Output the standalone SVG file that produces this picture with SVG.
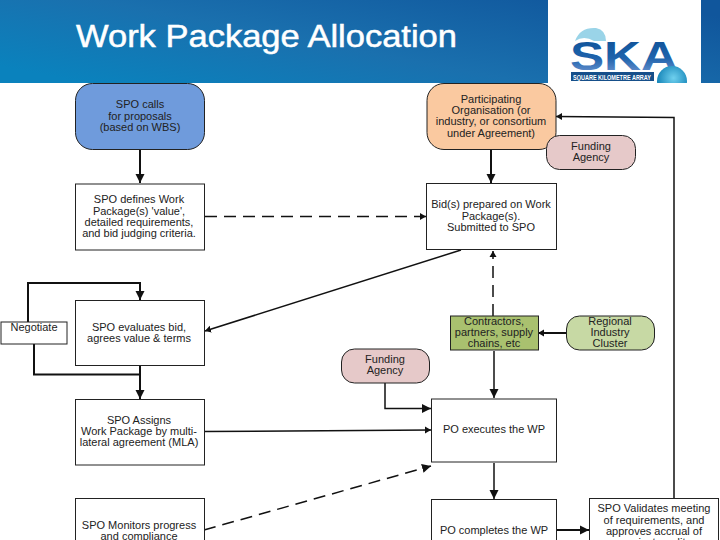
<svg xmlns="http://www.w3.org/2000/svg" width="720" height="540" viewBox="0 0 720 540">
<defs>
<linearGradient id="hdr" x1="0" y1="0.8" x2="1" y2="0.2"><stop offset="0" stop-color="#0a82bd"/><stop offset="0.45" stop-color="#1a70ae"/><stop offset="1" stop-color="#10569c"/></linearGradient>
<linearGradient id="ska" x1="0" y1="0" x2="0" y2="1"><stop offset="0" stop-color="#0c4f94"/><stop offset="0.55" stop-color="#1f63ac"/><stop offset="1" stop-color="#7f9fd8"/></linearGradient>
<radialGradient id="globe" cx="0.55" cy="0.4" r="0.6"><stop offset="0" stop-color="#6fd0ee"/><stop offset="1" stop-color="#0f7fb4"/></radialGradient>
<clipPath id="logoclip"><rect x="548" y="0" width="153" height="83"/></clipPath>
<marker id="a" markerUnits="userSpaceOnUse" markerWidth="10" markerHeight="10" refX="9" refY="5" orient="auto"><path d="M0 0.5L9 5L0 9.5z" fill="#111"/></marker>
<marker id="b" markerUnits="userSpaceOnUse" markerWidth="7" markerHeight="8" refX="6" refY="4" orient="auto"><path d="M0 0.5L6 4L0 7.5z" fill="#111"/></marker>
</defs>
<style>
text{font-family:"Liberation Sans",Arial,sans-serif;font-size:11px;fill:#222;text-anchor:middle}
.n{fill:#fff;stroke:#222;stroke-width:1}
.c{fill:none;stroke:#111;stroke-width:1.5}
.t{stroke-width:2}
.d{stroke-dasharray:12 7}
</style>
<rect width="720" height="540" fill="#fff"/>
<g id="header">
<rect width="720" height="83" fill="url(#hdr)"/>
<rect x="548" width="153" height="83" fill="#fff"/>
<text x="76" y="46.500" textLength="381" lengthAdjust="spacingAndGlyphs" style="font-size:32px;fill:#fff;stroke:#fff;stroke-width:0.5;text-anchor:start">Work Package Allocation</text>
</g>
<g id="logo" clip-path="url(#logoclip)">
<path d="M575 41Q580 27 596 28Q606 30 606 41L594 41Q584 35 575 41z" fill="#9ad4e8"/>
<text x="624" y="70" textLength="108" lengthAdjust="spacingAndGlyphs" style="font-size:40px;font-weight:bold;fill:url(#ska)">SKA</text>
<rect x="571" y="72" width="83" height="9" fill="#164f8a"/>
<text x="612" y="79.500" textLength="78" lengthAdjust="spacingAndGlyphs" style="font-size:7px;font-weight:bold;fill:#fff">SQUARE KILOMETRE ARRAY</text>
<circle cx="672" cy="81" r="15" fill="url(#globe)"/>
</g>
<g id="connectors">
<path class="c t" marker-end="url(#a)" d="M140 149V183"/>
<path class="c t" marker-end="url(#a)" d="M491 149V183"/>
<path class="c d" marker-end="url(#b)" marker-start="url(#b)" d="M205 216.500H426"/>
<path class="c" marker-end="url(#b)" d="M461 250L205 331"/>
<path class="c d" marker-end="url(#b)" d="M493 316V251"/>
<path class="c t" marker-end="url(#a)" d="M28 322V283H140V300"/>
<path class="c t" d="M34 344V374.500H140"/>
<path class="c t" marker-end="url(#a)" d="M140 365V399"/>
<path class="c t" marker-end="url(#b)" d="M566 333H538"/>
<path class="c" marker-end="url(#a)" d="M494 351V398"/>
<path class="c" marker-end="url(#a)" d="M385 383V408.500H431"/>
<path class="c" marker-end="url(#b)" d="M204 431.500L431 430"/>
<path class="c d" marker-end="url(#a)" d="M204 530L431 466"/>
<path class="c" marker-end="url(#a)" d="M494 463V499"/>
<path class="c t" marker-end="url(#a)" d="M556 530H589"/>
<path class="c" marker-end="url(#b)" d="M674 498V117.500L556 116.500"/>
</g>
<g id="spo-calls"><rect x="75.500" y="83.500" width="129" height="66" rx="17" fill="#6f9bdc" stroke="#222"/><text x="140" y="108">SPO calls</text><text x="140" y="119.500">for proposals</text><text x="140" y="130.500">(based on WBS)</text></g>
<g id="spo-defines"><rect class="n" x="75.500" y="184" width="129" height="66"/><text x="139" y="203">SPO defines Work</text><text x="139" y="214.500">Package(s) 'value',</text><text x="139" y="225.500">detailed requirements,</text><text x="139" y="237">and bid judging criteria.</text></g>
<g id="participating"><rect x="427" y="83.500" width="129" height="66" rx="17" fill="#fac9a0" stroke="#222"/><text x="491" y="102.500">Participating</text><text x="491" y="114">Organisation (or</text><text x="491" y="125">industry, or consortium</text><text x="491" y="136.500">under Agreement)</text></g>
<g id="funding-top"><rect x="546.500" y="135.500" width="89" height="34" rx="13" fill="#e6c9c9" stroke="#222"/><text x="591" y="150">Funding</text><text x="591" y="161">Agency</text></g>
<g id="bids"><rect class="n" x="426.500" y="183.500" width="130" height="66"/><text x="491" y="208">Bid(s) prepared on Work</text><text x="491" y="219.500">Package(s).</text><text x="491" y="230.500">Submitted to SPO</text></g>
<g id="negotiate"><rect class="n" x="1" y="322" width="66" height="22"/><text x="34" y="330.500">Negotiate</text></g>
<g id="spo-evaluates"><rect class="n" x="75.500" y="300.500" width="129" height="65"/><text x="139" y="330.500">SPO evaluates bid,</text><text x="139" y="342">agrees value &amp; terms</text></g>
<g id="funding-mid"><rect x="341.500" y="349" width="88" height="34" rx="13" fill="#e6c9c9" stroke="#222"/><text x="385" y="363">Funding</text><text x="385" y="374">Agency</text></g>
<g id="contractors"><rect x="450.500" y="316" width="88" height="34" fill="#a9c16f" stroke="#222"/><text x="494" y="325">Contractors,</text><text x="494" y="336">partners, supply</text><text x="494" y="347">chains, etc</text></g>
<g id="cluster"><rect x="566.500" y="316" width="88" height="34" rx="13" fill="#c7d9a4" stroke="#222"/><text x="610" y="325">Regional</text><text x="610" y="336">Industry</text><text x="610" y="347">Cluster</text></g>
<g id="spo-assigns"><rect class="n" x="75.500" y="399.500" width="129" height="65.500"/><text x="139" y="424">SPO Assigns</text><text x="139" y="435">Work Package by multi-</text><text x="139" y="446">lateral agreement (MLA)</text></g>
<g id="po-executes"><rect class="n" x="431.500" y="399" width="125" height="63"/><text x="494" y="433">PO executes the WP</text></g>
<g id="spo-monitors"><rect class="n" x="75.500" y="498.500" width="129" height="60"/><text x="139" y="528.500">SPO Monitors progress</text><text x="139" y="539.500">and compliance</text></g>
<g id="po-completes"><rect class="n" x="431.500" y="499.500" width="125" height="60"/><text x="494" y="534">PO completes the WP</text></g>
<g id="spo-validates"><rect class="n" x="589.500" y="498.500" width="129" height="60"/><text x="654" y="512">SPO Validates meeting</text><text x="654" y="523.500">of requirements, and</text><text x="654" y="534.500">approves accrual of</text><text x="654" y="545.500">project credit</text></g>
</svg>
